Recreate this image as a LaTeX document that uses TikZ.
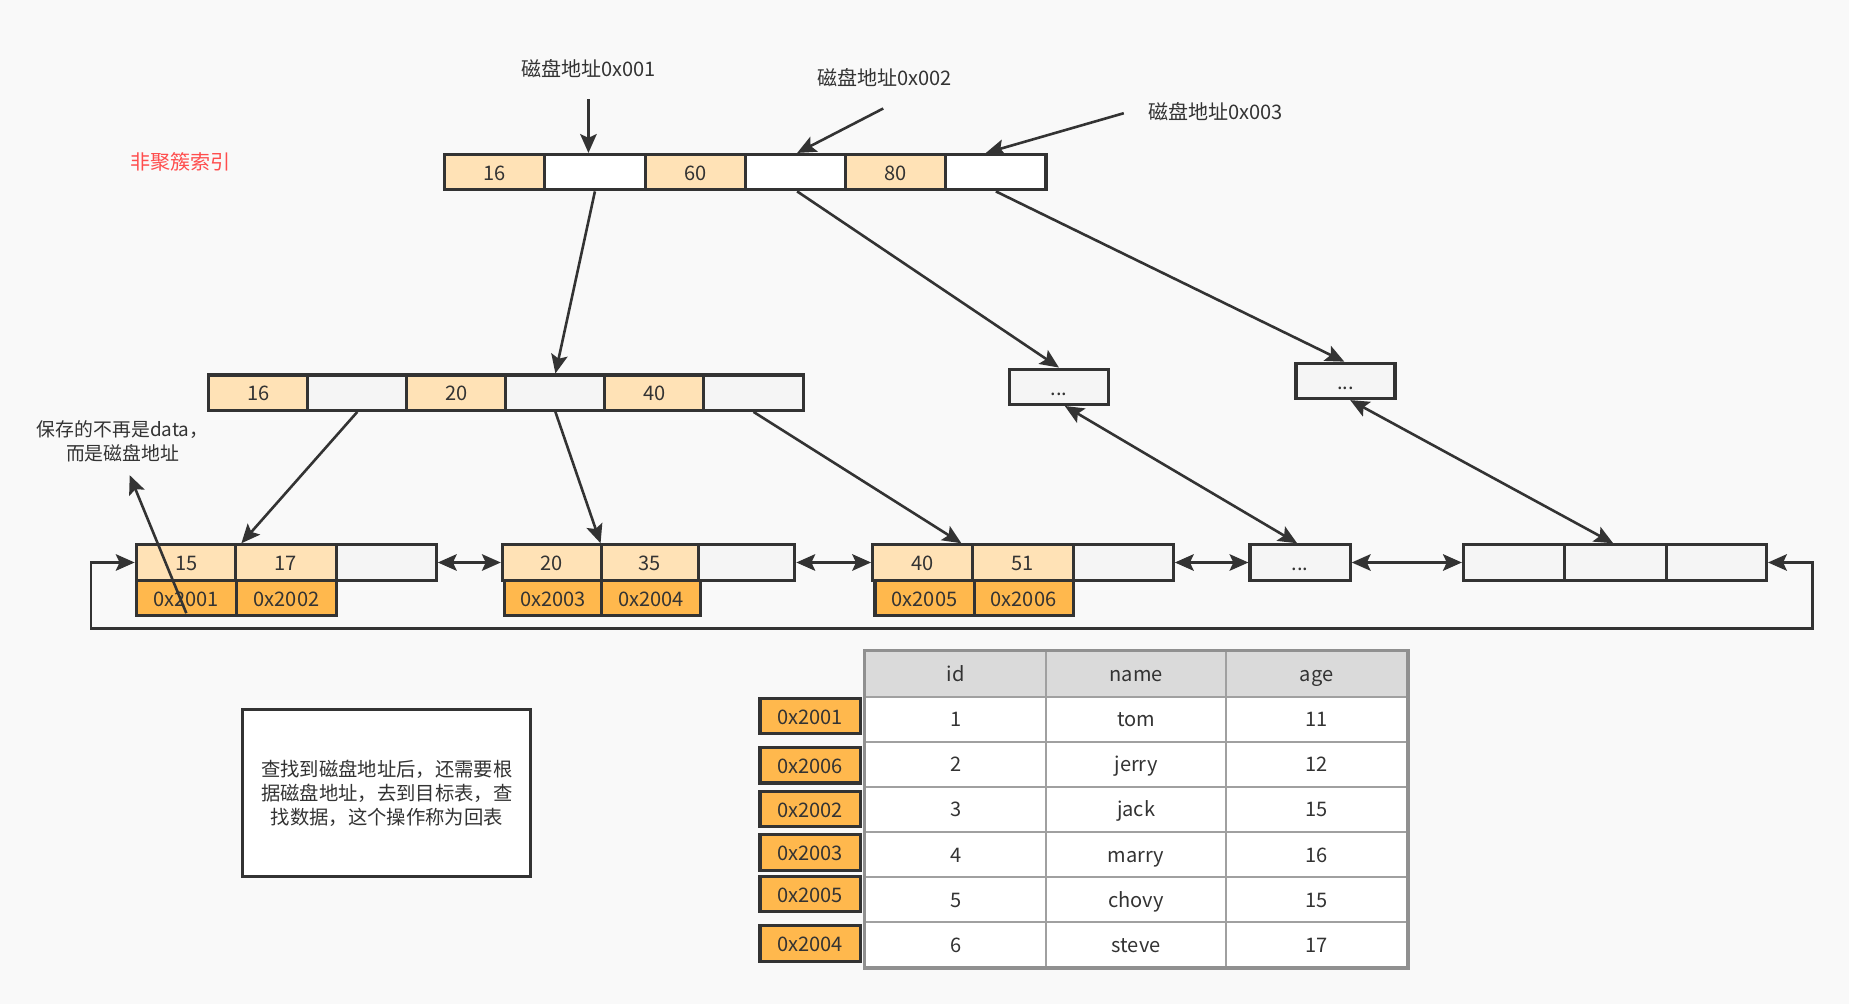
\documentclass[tikz,border=0pt]{standalone}
\usepackage{fontspec}
\setmainfont{Noto Sans CJK SC}
\usetikzlibrary{arrows.meta,calc}
\definecolor{ln}{HTML}{333333}
\definecolor{bgc}{HTML}{F9F9F9}
\definecolor{lor}{HTML}{FFE2B6}
\definecolor{dor}{HTML}{FFB84D}
\definecolor{lgr}{HTML}{F5F5F5}
\definecolor{hdr}{HTML}{DADADA}
\definecolor{tbl}{HTML}{A0A0A0}
\definecolor{redt}{HTML}{FF4D4D}
\begin{document}
\begin{tikzpicture}[x=0.5pt,y=-0.5pt,
  cellbase/.style={draw=ln, line width=1.3pt, inner sep=0pt, text=ln,
    font=\fontsize{8.5}{10}\selectfont, minimum height=15pt, minimum width=42.5pt,
    text height=8.2pt, text depth=1.2pt},
  lo/.style={cellbase, fill=lor},
  wh/.style={cellbase, fill=white},
  gy/.style={cellbase, fill=lgr},
  dk/.style={cellbase, fill=dor},
  lbl/.style={text=ln, font=\fontsize{8.5}{10}\selectfont, inner sep=0pt},
  tcell/.style={draw=tbl, line width=0.8pt, fill=white, text=ln, inner sep=0pt,
    minimum width=76.5pt, minimum height=19.1pt, font=\fontsize{8.5}{10}\selectfont,
    text height=7.8pt, text depth=1.4pt},
  thead/.style={tcell, fill=hdr},
  arr/.style={draw=ln, line width=1.1pt, -{Stealth[length=8pt,width=7pt,inset=1.6pt]}},
  darr/.style={draw=ln, line width=1.1pt, {Stealth[length=8pt,width=7pt,inset=1.6pt]}-{Stealth[length=8pt,width=7pt,inset=1.6pt]}}
]
\useasboundingbox (0,0) rectangle (1568,851);
\fill[bgc] (0,0) rectangle (1568,851);

% labels
\node[lbl, text=redt] (title) at (153,137) {非聚簇索引};
\node[lbl] (lab1) at (499,58) {磁盘地址0x001};
\node[lbl] (lab2) at (750,66) {磁盘地址0x002};
\node[lbl] (lab3) at (1031,95) {磁盘地址0x003};
\coordinate (s1) at (499,84);
\coordinate (s2) at (749,92);
\coordinate (s3) at (953,96);

% root
\node[lo] (t1) at (419.5,146) {16};
\node[wh] (t2) at (504.5,146) {};
\node[lo] (t3) at (589.5,146) {60};
\node[wh] (t4) at (674.5,146) {};
\node[lo] (t5) at (759.5,146) {80};
\node[wh] (t6) at (844.5,146) {};

% second level
\begin{scope}[every node/.append style={minimum width=42pt}]
\node[lo] (r1) at (219,333) {16};
\node[gy] (r2) at (303,333) {};
\node[lo] (r3) at (387,333) {20};
\node[gy] (r4) at (471,333) {};
\node[lo] (r5) at (555,333) {40};
\node[gy] (r6) at (639,333) {};
\end{scope}

% upper ellipsis boxes
\node[gy, minimum width=42pt] (ba) at (898,328) {...};
\node[gy, minimum width=42pt] (bb) at (1141,323) {...};

% leaves
\node[lo] (l1a) at (158,477) {15};
\node[lo] (l1b) at (242.5,477) {17};
\node[gy] (l1c) at (327.5,477) {};
\node[dk] (l1d) at (158,507) {0x2001};
\node[dk] (l1e) at (243,507) {0x2002};

\node[lo, minimum width=42pt] (l2a) at (468,477) {20};
\node[lo, minimum width=41pt] (l2b) at (551,477) {35};
\node[gy, minimum width=41pt] (l2c) at (633,477) {};
\node[dk, minimum width=41pt] (l2d) at (469,507) {0x2003};
\node[dk, minimum width=42pt] (l2e) at (552,507) {0x2004};

\node[lo] (l3a) at (782.5,477) {40};
\node[lo] (l3b) at (867.5,477) {51};
\node[gy] (l3c) at (952.5,477) {};
\node[dk, minimum width=42pt] (l3d) at (784,507) {0x2005};
\node[dk, minimum width=42pt] (l3e) at (868,507) {0x2006};

\node[gy] (l4) at (1102.5,477) {...};

\node[gy, minimum width=43pt] (l5a) at (1284,477) {};
\node[gy, minimum width=43pt] (l5b) at (1370,477) {};
\node[gy, minimum width=42.5pt] (l5c) at (1455.5,477) {};

% note text
\node[lbl, align=center, font=\fontsize{8}{10}\selectfont] (note) at (104,374) {保存的不再是data，\\而是磁盘地址};

% explanation box
\node[draw=ln, line width=1.3pt, fill=white, minimum width=122pt, minimum height=70.5pt,
  text=ln, align=center, font=\fontsize{8.2}{10.2}\selectfont, inner sep=0pt] (expl) at (328,672.5)
  {查找到磁盘地址后，还需要根\\据磁盘地址，去到目标表，查\\找数据，这个操作称为回表};

% table
\node[thead] (h1) at (810.5,571.5) {id};
\node[thead] (h2) at (963.5,571.5) {name};
\node[thead] (h3) at (1116.5,571.5) {age};
\node[tcell] (c11) at (810.5,610) {1};
\node[tcell] (c12) at (963.5,610) {tom};
\node[tcell] (c13) at (1116.5,610) {11};
\node[tcell] (c21) at (810.5,648.2) {2};
\node[tcell] (c22) at (963.5,648.2) {jerry};
\node[tcell] (c23) at (1116.5,648.2) {12};
\node[tcell] (c31) at (810.5,686.4) {3};
\node[tcell] (c32) at (963.5,686.4) {jack};
\node[tcell] (c33) at (1116.5,686.4) {15};
\node[tcell] (c41) at (810.5,724.6) {4};
\node[tcell] (c42) at (963.5,724.6) {marry};
\node[tcell] (c43) at (1116.5,724.6) {16};
\node[tcell] (c51) at (810.5,762.8) {5};
\node[tcell] (c52) at (963.5,762.8) {chovy};
\node[tcell] (c53) at (1116.5,762.8) {15};
\node[tcell] (c61) at (810.5,801) {6};
\node[tcell] (c62) at (963.5,801) {steve};
\node[tcell] (c63) at (1116.5,801) {17};
\draw[draw=tbl!90!black, line width=1.5pt] (h1.north west) rectangle (c63.south east);

% address boxes
\begin{scope}[every node/.append style={minimum width=42pt}]
\node[dk] (a1) at (687,607) {0x2001};
\node[dk] (a2) at (687,649) {0x2006};
\node[dk] (a3) at (687,686) {0x2002};
\node[dk] (a4) at (687,723) {0x2003};
\node[dk] (a5) at (687,758) {0x2005};
\node[dk] (a6) at (687,800) {0x2004};
\end{scope}

% arrows from labels
\draw[arr] (s1) -- ($(t2.north)+(-5.5,0)$);
\draw[arr] (s2) -- ($(t4.north)+(1.5,0)$);
\draw[arr] (s3) -- ($(t6.north)+(-8.5,0)$);

% root to children
\draw[arr] (t2.south) -- (r4.north);
\draw[arr] ($(t4.south)+(1.5,0)$) -- (ba.north);
\draw[arr] (t6.south) -- ($(bb.north)+(-1,0)$);

% second level to leaves
\draw[arr] (r2.south) -- ($(l1b.north west)+(6,0)$);
\draw[arr] (r4.south) -- ($(l2a.north east)+(-2,0)$);
\draw[arr] (r6.south) -- ($(l3a.north east)+(-11,0)$);

% leaf links
\draw[darr] (l1c.east) -- (l2a.west);
\draw[darr] (l2c.east) -- (l3a.west);
\draw[darr] (l3c.east) -- (l4.west);
\draw[darr] (l4.east) -- (l5a.west);

% upper boxes to leaves
\draw[darr] ($(ba.south)+(5,0)$) -- ($(l4.north)+(-2.5,0)$);
\draw[darr] ($(bb.south)+(4,0)$) -- ($(l5b.north)+(-2,0)$);

% loop
\coordinate (lpR) at (1537,533);
\coordinate (lpL) at (77,533);
\draw[darr] (l5c.east) -| (lpR) -- (lpL) |- (l1a.west);

% annotation arrow
\coordinate (anS) at (158,520);
\coordinate (anE) at (110,403);
\draw[arr] (anS) -- (anE);
\end{tikzpicture}
\end{document}
